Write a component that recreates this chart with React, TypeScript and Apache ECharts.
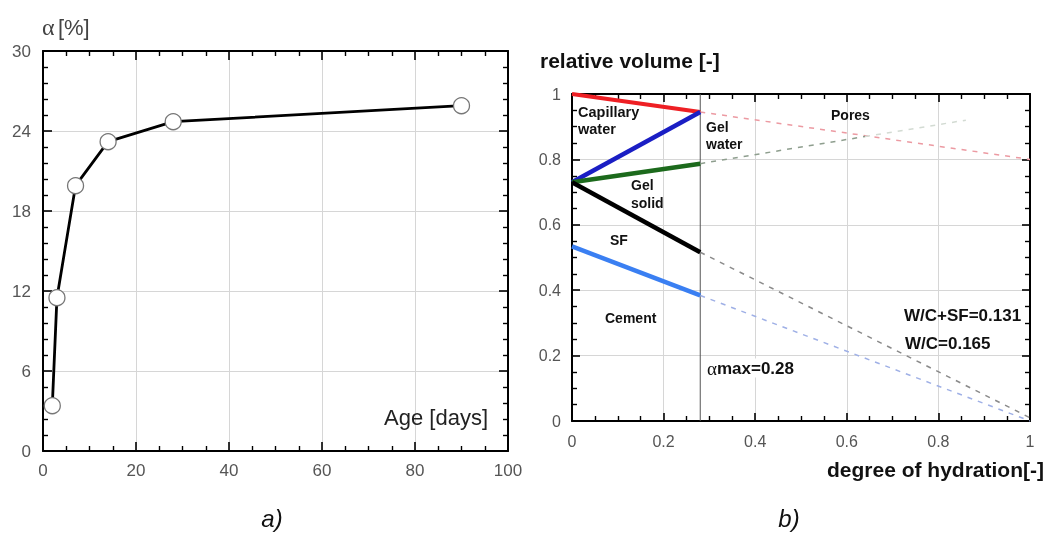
import React, { useEffect, useRef } from "react";
import * as echarts from "echarts";

// ---- Panel a) : degree of hydration vs age ----
const ageDays = [2, 3, 7, 14, 28, 90];
const alphaPercent = [3.4, 11.5, 19.9, 23.2, 24.7, 25.9];

// ---- Panel b) : relative volume vs degree of hydration ----
const alphaMax = 0.28;
const capillaryWater = [[0, 1.0], [0.28, 0.945]];
const poresTrend = [[0.28, 0.945], [1, 0.8]];
const gelWater = [[0, 0.73], [0.28, 0.945]];
const gelSolid = [[0, 0.73], [0.28, 0.787]];
const gelSolidTrend = [[0.28, 0.787], [0.64, 0.87]];
const gelSolidTrendFaint = [[0.64, 0.87], [0.86, 0.92]];
const silicaFume = [[0, 0.73], [0.28, 0.516]];
const silicaFumeTrend = [[0.28, 0.516], [1, 0.01]];
const cement = [[0, 0.534], [0.28, 0.384]];
const cementTrend = [[0.28, 0.384], [1, 0.0]];
const alphaMaxLine = [[alphaMax, 0], [alphaMax, 1]];

const FONT = "Liberation Sans, Arial, Helvetica, sans-serif";

function makeAxis(
  grid: number,
  min: number,
  max: number,
  interval: number,
  minorSplit: number,
  position: string,
  tickLen: number,
  withLabels: boolean,
  labelSize: number,
  labelMargin: number
) {
  const ax: any = {
    type: "value",
    gridIndex: grid,
    position,
    min,
    max,
    interval,
    axisLine: { show: true, lineStyle: { color: "#000", width: 2 } },
    axisTick: { show: true, inside: true, length: tickLen, lineStyle: { color: "#000", width: 1.6 } },
    minorTick: { show: true, splitNumber: minorSplit, length: 5, lineStyle: { color: "#000", width: 1.4 } },
    axisLabel: withLabels
      ? { show: true, color: "#555", fontSize: labelSize, fontFamily: FONT, margin: labelMargin }
      : { show: false },
    splitLine: withLabels ? { show: true, lineStyle: { color: "#d6d6d6", width: 1 } } : { show: false },
  };
  ax.axisLine.onZero = false;
  return ax;
}

export default function App() {
  const ref = useRef<HTMLDivElement>(null);

  useEffect(() => {
    if (!ref.current) return;
    const chart = echarts.init(ref.current, undefined, { renderer: "svg" });

    const seg = (data: number[][], color: string, width: number, dashed = false) => ({
      type: "line",
      xAxisIndex: 2,
      yAxisIndex: 2,
      data,
      symbol: "none",
      silent: true,
      lineStyle: { color, width, type: dashed ? [5, 6] : "solid" },
    });

    const boldLabel = (text: string, x: number, y: number, size = 14, align = "left") => ({
      type: "text",
      x,
      y,
      z: 20,
      style: {
        text,
        fill: "#111",
        font: `bold ${size}px ${FONT}`,
        textAlign: align,
        textVerticalAlign: "middle",
      },
    });

    chart.setOption({
      animation: false,
      grid: [
        { left: 43, top: 51, width: 465, height: 400 },
        { left: 572, top: 94, width: 458, height: 327 },
      ],
      xAxis: [
        makeAxis(0, 0, 100, 20, 4, "bottom", 9, true, 17, 11),
        makeAxis(0, 0, 100, 20, 4, "top", 9, false, 17, 11),
        makeAxis(1, 0, 1, 0.2, 4, "bottom", 8, true, 16, 12),
        makeAxis(1, 0, 1, 0.2, 4, "top", 8, false, 16, 12),
      ],
      yAxis: [
        makeAxis(0, 0, 30, 6, 5, "left", 9, true, 17, 12),
        makeAxis(0, 0, 30, 6, 5, "right", 9, false, 17, 12),
        makeAxis(1, 0, 1, 0.2, 4, "left", 8, true, 16, 11),
        makeAxis(1, 0, 1, 0.2, 4, "right", 8, false, 16, 11),
      ],
      series: [
        {
          type: "line",
          xAxisIndex: 0,
          yAxisIndex: 0,
          data: ageDays.map((d, i) => [d, alphaPercent[i]]),
          symbol: "circle",
          symbolSize: 16,
          silent: true,
          z: 5,
          lineStyle: { color: "#000", width: 2.8 },
          itemStyle: { color: "#fff", borderColor: "#777", borderWidth: 1.3 },
        },
        seg(alphaMaxLine, "#555", 1),
        seg(poresTrend, "#ec9aa2", 1.5, true),
        seg(gelSolidTrend, "#8e9e8e", 1.5, true),
        seg(gelSolidTrendFaint, "#d3dbd3", 1.5, true),
        seg(silicaFumeTrend, "#8a8a8a", 1.5, true),
        seg(cementTrend, "#9fb0e6", 1.5, true),
        seg(capillaryWater, "#ee1f24", 4),
        seg(gelWater, "#1a1ec4", 4.5),
        seg(gelSolid, "#1c6a1c", 4.5),
        seg(silicaFume, "#000", 4.5),
        seg(cement, "#3a7ff2", 4.5),
      ],
      graphic: [
        {
          type: "text",
          x: 42,
          y: 27,
          style: {
            text: "{a|α} {b|[%]}",
            textVerticalAlign: "middle",
            rich: {
              a: { fontFamily: "Liberation Serif, DejaVu Serif, serif", fontSize: 24, fill: "#444", color: "#444" },
              b: { fontFamily: FONT, fontSize: 22, fill: "#444", color: "#444" },
            },
          },
        },
        {
          type: "text",
          x: 488,
          y: 417,
          z: 20,
          style: {
            text: "Age [days]",
            fill: "#222",
            font: `22px ${FONT}`,
            textAlign: "right",
            textVerticalAlign: "middle",
          },
        },
        boldLabel("relative volume [-]", 540, 60, 21),
        boldLabel("degree of hydration[-]", 1044, 469, 21, "right"),
        boldLabel("Capillary", 578, 112, 14.5),
        boldLabel("water", 578, 129, 14.5),
        boldLabel("Gel", 706, 127, 14),
        boldLabel("water", 706, 144, 14),
        boldLabel("Gel", 631, 185, 14),
        boldLabel("solid", 631, 203, 14),
        boldLabel("SF", 610, 240, 14),
        boldLabel("Pores", 831, 115, 14),
        boldLabel("Cement", 605, 318, 14),
        boldLabel("W/C+SF=0.131", 904, 315, 17),
        boldLabel("W/C=0.165", 905, 343, 17),
        {
          type: "text",
          x: 707,
          y: 368,
          z: 20,
          style: {
            text: "{a|α}{b|max=0.28}",
            textVerticalAlign: "middle",
            backgroundColor: "#fff",
            rich: {
              a: { fontFamily: "Liberation Serif, DejaVu Serif, serif", fontSize: 19, fill: "#111", color: "#111" },
              b: { fontFamily: FONT, fontSize: 17, fontWeight: "bold", fill: "#111", color: "#111" },
            },
          },
        },
        {
          type: "text",
          x: 272,
          y: 518,
          style: { text: "a)", fill: "#111", font: `italic 24px ${FONT}`, textAlign: "center", textVerticalAlign: "middle" },
        },
        {
          type: "text",
          x: 789,
          y: 518,
          style: { text: "b)", fill: "#111", font: `italic 24px ${FONT}`, textAlign: "center", textVerticalAlign: "middle" },
        },
      ],
    });

    return () => chart.dispose();
  }, []);

  return <div ref={ref} style={{ position: "fixed", left: 0, top: 0, width: 1048, height: 533 }} />;
}
